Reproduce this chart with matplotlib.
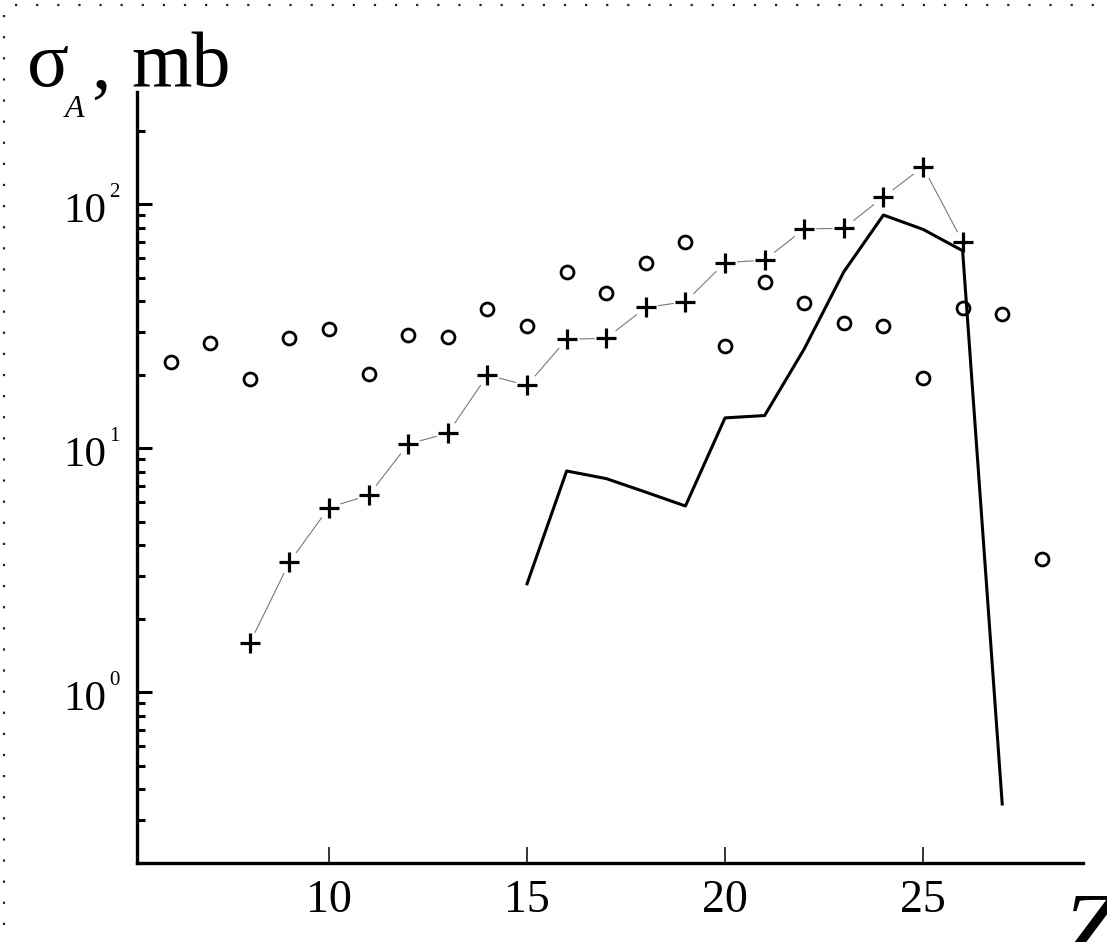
import numpy as np
import matplotlib.pyplot as plt
from matplotlib.lines import Line2D
from matplotlib.ticker import LogLocator, NullFormatter, FixedLocator

plt.rcParams['font.family'] = ['Liberation Serif', 'DejaVu Serif']

# open circles
z_circ = list(range(6, 29))
sig_circ = [22.6, 26.9, 19.2, 28.3, 30.7, 20.2, 29.0, 28.6, 37.3, 31.6, 52.8, 43.3,
            57.2, 70.1, 26.2, 47.8, 39.2, 32.7, 31.6, 19.3, 37.4, 35.4, 3.5]

# crosses joined by thin line
z_cross = list(range(8, 27))
sig_cross = [1.59, 3.41, 5.71, 6.41, 10.4, 11.5, 19.9, 18.1, 27.9, 28.2, 37.7, 39.8,
             57.5, 59.0, 79.1, 79.6, 107, 142, 70.1]

# thick solid curve
z_line = list(range(15, 28))
sig_line = [2.78, 8.06, 7.5, 6.6, 5.79, 13.3, 13.6, 25.5, 52.8, 90.2, 78.8, 64.4, 0.348]

x_ticks = [10, 15, 20, 25]
y_decades = [0, 1, 2]

W, H = 1107, 942
fig = plt.figure(figsize=(W / 100, H / 100), dpi=100)
ax = fig.add_axes([137 / W, 1 - 862.7 / H, (1083 - 137) / W, (862.7 - 92) / H])

ax.plot(z_cross, sig_cross, '-', color='#7a7a7a', lw=0.8, zorder=1)
ax.plot(z_cross, sig_cross, 'o', color='white', ms=17, mew=0, zorder=1.5)
ax.plot(z_line, sig_line, '-', color='black', lw=2.2, zorder=2)
ax.plot(z_cross, sig_cross, '+', color='black', ms=14.5, mew=2.3, zorder=3)
ax.plot(z_circ, sig_circ, 'o', mfc='none', mec='black', ms=9.3, mew=2.0, zorder=3)

ax.set_yscale('log')
ax.set_xlim(5.15, 29.04)
ax.set_ylim(0.2, 288)

for s in ['top', 'right']:
    ax.spines[s].set_visible(False)
for s in ['left', 'bottom']:
    ax.spines[s].set_linewidth(2.4)

ax.xaxis.set_major_locator(FixedLocator(x_ticks))
ax.xaxis.set_minor_locator(FixedLocator([]))
ax.yaxis.set_major_locator(FixedLocator([10.0 ** d for d in y_decades]))
ax.yaxis.set_minor_locator(LogLocator(base=10, subs=np.arange(2, 10), numticks=20))
ax.yaxis.set_major_formatter(NullFormatter())
ax.yaxis.set_minor_formatter(NullFormatter())

ax.tick_params(axis='x', which='major', direction='in', length=11.5, width=1.1,
               labelsize=33, pad=12)
ax.tick_params(axis='y', which='major', direction='in', length=11, width=2.2)
ax.tick_params(axis='y', which='minor', direction='in', length=6, width=2.2)

# y labels: 10 with a small raised exponent
for d in y_decades:
    ax.annotate('10', xy=(0, 10.0 ** d), xycoords=('axes fraction', 'data'),
                xytext=(-31, -18), textcoords='offset pixels',
                ha='right', va='baseline', fontsize=31)
    ax.annotate(str(d), xy=(0, 10.0 ** d), xycoords=('axes fraction', 'data'),
                xytext=(-28, 7), textcoords='offset pixels',
                ha='left', va='baseline', fontsize=15)

# axis titles
fig.text(27 / W, 1 - 86 / H, 'σ', fontsize=56, va='baseline', ha='left')
fig.text(65 / W, 1 - 117 / H, 'A', fontsize=23, style='italic', va='baseline', ha='left')
fig.text(91 / W, 1 - 88 / H, ',', fontsize=56, va='baseline', ha='left')
fig.text(131 / W, 1 - 86 / H, 'mb', fontsize=56, va='baseline', ha='left')
fig.text(1062 / W, 1 - 960 / H, 'Z', fontsize=72, style='italic', va='baseline', ha='left')

# dotted frame on the top and left edges
dots = dict(color='#222222', lw=1.6, linestyle=(0, (1, 8.5)), transform=fig.transFigure)
fig.add_artist(Line2D([15 / W, 1], [1 - 5 / H, 1 - 5 / H], **dots))
fig.add_artist(Line2D([4 / W, 4 / W], [1 - 15 / H, 0], **dots))

fig.savefig('out.png', dpi=100)
